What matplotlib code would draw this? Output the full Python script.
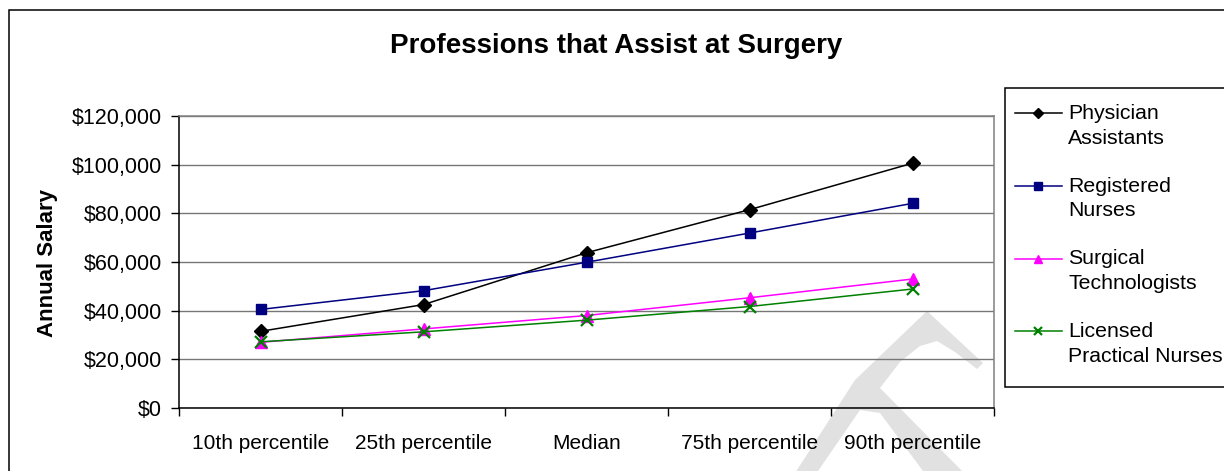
import numpy as np
import matplotlib
matplotlib.use('Agg')
import matplotlib.pyplot as plt
from matplotlib.patches import Polygon, Rectangle
from matplotlib.ticker import StrMethodFormatter

plt.rcParams['font.family'] = ['Liberation Sans', 'DejaVu Sans']

# data
categories = ['10th percentile', '25th percentile', 'Median',
              '75th percentile', '90th percentile']
physician_assistants = [31500, 42500, 63800, 81500, 100600]
registered_nurses = [40500, 48200, 59900, 71900, 84100]
surgical_technologists = [27000, 32500, 38000, 45300, 53000]
licensed_practical_nurses = [27200, 31300, 36100, 41700, 48900]

series = [
    ('Physician\nAssistants', physician_assistants, 'black', 'D', 7.5),
    ('Registered\nNurses', registered_nurses, '#000080', 's', 7.5),
    ('Surgical\nTechnologists', surgical_technologists, '#ff00ff', '^', 8.5),
    ('Licensed\nPractical Nurses', licensed_practical_nurses, '#008000', 'x', 8.5),
]

W, H = 1224, 471
fig = plt.figure(figsize=(W / 100, H / 100), dpi=100)
fig.patch.set_facecolor('white')


def px(x, y):
    # pixel position -> figure fraction
    return (x / W, 1 - y / H)


# outer chart frame (runs off the right / bottom edge)
fig.patches.append(Rectangle(px(9, 10 + 600), 1.2, 600 / H, transform=fig.transFigure,
                             fill=False, edgecolor='black', lw=1.1, zorder=-2))

# faint watermark stroke behind the plot
wm = [(790, 480), (797, 470), (855, 380), (927, 311), (983, 363), (977, 369),
      (955, 352), (937, 341), (920, 346), (900, 362), (880, 388), (962, 471),
      (970, 480), (930, 480), (923, 471), (880, 413), (860, 410), (818, 471),
      (812, 480)]
fig.patches.append(Polygon([px(x, y) for x, y in wm], closed=True,
                           transform=fig.transFigure, facecolor='#e1e1e1',
                           edgecolor='none', zorder=-1))

# legend box (also runs off the right edge)
fig.patches.append(Rectangle(px(1005, 387), 0.2, 299 / H, transform=fig.transFigure,
                             facecolor='white', edgecolor='black', lw=1.1, zorder=1))

ax = fig.add_axes([179 / W, 63 / H, 815 / W, 292 / H])
ax.set_facecolor('none')

x = np.arange(len(categories))
handles = []
for label, vals, color, marker, ms in series:
    mew = 1.6 if marker == 'x' else 1
    h, = ax.plot(x, vals, color=color, lw=1.1, marker=marker, markersize=ms,
                 markeredgewidth=mew, label=label, clip_on=False, zorder=3)
    handles.append(h)

ax.set_xlim(-0.5, len(categories) - 0.5)
ax.set_ylim(0, 120000)
ax.set_yticks(np.arange(0, 120001, 20000))
ax.yaxis.set_major_formatter(StrMethodFormatter('${x:,.0f}'))
ax.yaxis.grid(True, color='#767676', lw=1)
ax.set_axisbelow(True)

ax.set_xticks(np.arange(-0.5, len(categories)))
ax.set_xticklabels([])
ax.set_xticks(x, minor=True)
ax.set_xticklabels(categories, minor=True)
ax.tick_params(axis='x', which='major', direction='out', length=5.5, width=1, color='black')
ax.tick_params(axis='x', which='minor', length=0, pad=18.5, labelsize=15)
ax.tick_params(axis='y', direction='out', length=6, width=1, color='black', pad=6.5,
               labelsize=15.5)

for side in ['left', 'bottom']:
    ax.spines[side].set_color('black')
    ax.spines[side].set_linewidth(1.1)
for side in ['right', 'top']:
    ax.spines[side].set_color('#808080')
    ax.spines[side].set_linewidth(1.1)

ax.set_ylabel('Annual Salary', fontsize=16, fontweight='bold')
ax.yaxis.set_label_coords((58 - 179) / 815, 0.495)

fig.text(*px(616, 46), 'Professions that Assist at Surgery', fontsize=20,
         fontweight='bold', ha='center', va='center')

leg = fig.legend(handles=handles, loc='upper left', bbox_to_anchor=px(1015, 93),
                 bbox_transform=fig.transFigure, borderaxespad=0, fontsize=15.3,
                 frameon=False, handlelength=2.2, handletextpad=0.3, handleheight=4.7,
                 labelspacing=0.12, borderpad=0, markerscale=0.7)
for t in leg.get_texts():
    t.set_linespacing(1.38)

fig.savefig('out.png', dpi=100)
